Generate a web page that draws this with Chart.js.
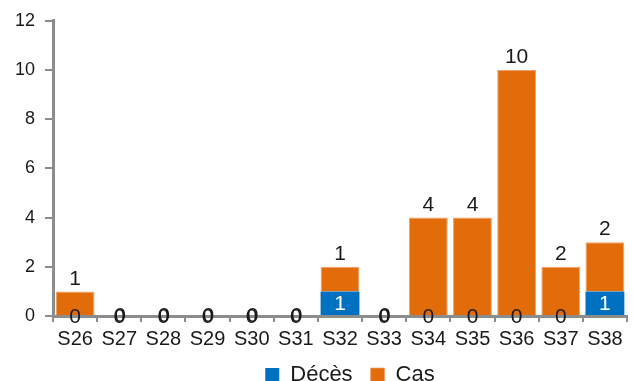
<!DOCTYPE html>
<html>
<head>
<meta charset="utf-8">
<script src="https://cdn.jsdelivr.net/npm/chart.js@4"></script>
<style>
  html, body { margin: 0; padding: 0; background: #fff; }
  #wrap { width: 633px; height: 381px; }
</style>
</head>
<body>
<div id="wrap"><canvas id="grafica" width="633" height="381"></canvas></div>
<script>
// semaines
const labels = ['S26', 'S27', 'S28', 'S29', 'S30', 'S31', 'S32', 'S33', 'S34', 'S35', 'S36', 'S37', 'S38'];
const deces = [0, 0, 0, 0, 0, 0, 1, 0, 0, 0, 0, 0, 1];
const cas = [1, 0, 0, 0, 0, 0, 1, 0, 4, 4, 10, 2, 2];
const yTicks = [0, 2, 4, 6, 8, 10, 12];

const FONT = "'Liberation Sans', Arial, sans-serif";
const GREY = '#8c8c8c';

// étiquettes de valeurs, dessinées à partir des barres
const valueLabels = {
  id: 'valueLabels',
  afterDatasetsDraw(chart) {
    const ctx = chart.ctx;
    ctx.save();
    ctx.font = '21px ' + FONT;
    ctx.textAlign = 'center';
    const m0 = chart.getDatasetMeta(0);
    const m1 = chart.getDatasetMeta(1);
    m0.data.forEach((bar, i) => {
      const v = deces[i];
      ctx.textBaseline = 'middle';
      ctx.fillStyle = v > 0 ? '#ffffff' : '#1a1a1a';
      ctx.fillText(String(v), bar.x, (bar.y + bar.base) / 2 + 1);
    });
    m1.data.forEach((bar, i) => {
      const v = cas[i];
      ctx.fillStyle = '#1a1a1a';
      if (v === 0) {
        ctx.textBaseline = 'middle';
        ctx.fillText('0', bar.x + 0.8, bar.base + 0.5);
      } else {
        ctx.textBaseline = 'bottom';
        ctx.fillText(String(v), bar.x, bar.y - 2);
      }
    });
    ctx.restore();
  }
};

// déplace la légende (centrage comme dans l'original)
const shiftLegend = {
  id: 'shiftLegend',
  afterLayout(chart) {
    const lg = chart.legend;
    lg.left += 34; lg.right += 34;
    lg.top -= 10;
    lg.bottom = chart.height;
  }
};

const data = {
  labels: labels,
  datasets: [
    {
      label: 'Décès',
      data: deces,
      backgroundColor: '#0070c0',
      borderWidth: 0,
      barPercentage: 0.88,
      categoryPercentage: 1
    },
    {
      label: 'Cas',
      data: cas,
      backgroundColor: '#e36c0a',
      borderColor: '#f0a070',
      borderWidth: { top: 1, left: 1, right: 1, bottom: 0 },
      barPercentage: 0.88,
      categoryPercentage: 1
    }
  ]
};

const config = {
  type: 'bar',
  data: data,
  options: {
    responsive: false,
    animation: false,
    layout: { padding: { top: 19, right: 6, left: 5, bottom: -9 } },
    plugins: {
      tooltip: { enabled: false },
      legend: {
        position: 'bottom',
        maxHeight: 34,
        labels: {
          font: { family: FONT, size: 22 },
          color: '#1a1a1a',
          boxWidth: 14,
          boxHeight: 14,
          padding: 18
        }
      }
    },
    scales: {
      x: {
        stacked: true,
        border: { color: GREY, width: 3 },
        grid: { drawOnChartArea: false, color: GREY, lineWidth: 2, tickLength: 6 },
        ticks: { font: { family: FONT, size: 20 }, color: '#1a1a1a', padding: 5 }
      },
      y: {
        stacked: true,
        min: 0,
        max: 12,
        afterBuildTicks(axis) { axis.ticks = yTicks.map(v => ({ value: v })); },
        border: { color: GREY, width: 3 },
        grid: { drawOnChartArea: false, color: GREY, lineWidth: 2, tickLength: 8 },
        ticks: { font: { family: FONT, size: 18 }, color: '#1a1a1a', padding: 10 }
      }
    }
  },
  plugins: [valueLabels, shiftLegend]
};

new Chart(document.getElementById('grafica'), config);
</script>
</body>
</html>
